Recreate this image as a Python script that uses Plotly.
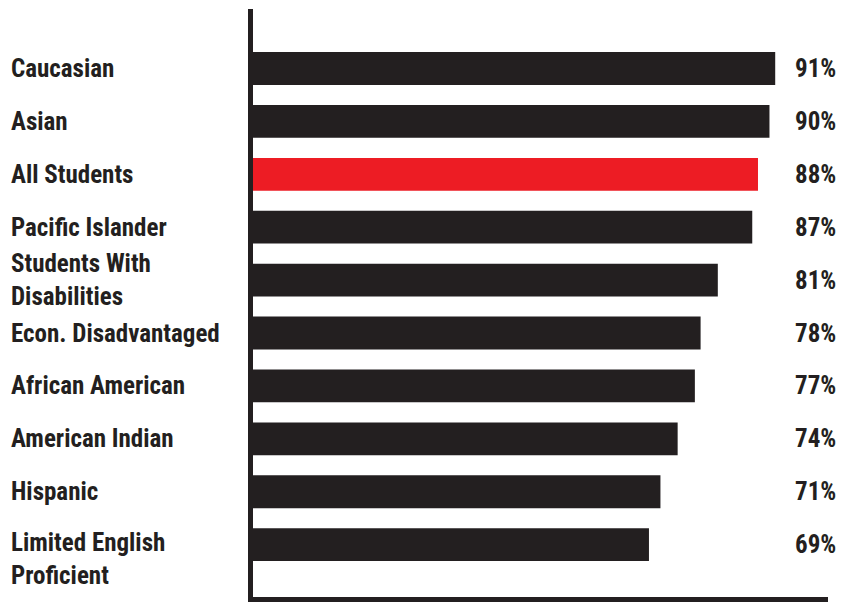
import plotly.graph_objects as go

categories = ["Caucasian", "Asian", "All Students", "Pacific Islander",
              "Students With<br>Disabilities", "Econ. Disadvantaged",
              "African American", "American Indian", "Hispanic",
              "Limited English<br>Proficient"]
values = [91, 90, 88, 87, 81, 78, 77, 74, 71, 69]
value_labels = ["91%", "90%", "88%", "87%", "81%", "78%", "77%", "74%", "71%", "69%"]
highlight = "All Students"

DARK = "#231f20"
RED = "#ed1c24"
FONT = "Roboto Condensed, Open Sans Condensed, sans-serif"

colors = [RED if c == highlight else DARK for c in categories]
ypos = list(range(len(categories)))

fig = go.Figure(go.Bar(
    x=values, y=ypos, orientation="h",
    marker=dict(color=colors, line=dict(width=0)),
    width=0.62, hoverinfo="skip",
))

ML, MR, MT, MB = 253, 16, 9, 8
plot_w = 844 - ML - MR

annotations = []
for i, (c, v) in enumerate(zip(categories, value_labels)):
    # last (two-line) label sits with its first line level with the bar
    shift = -14 if i == len(categories) - 1 else 0
    annotations.append(dict(
        x=(9 - ML) / plot_w, xref="paper", y=i, yref="y", yshift=shift,
        text=c, showarrow=False, xanchor="left", align="left",
        font=dict(family=FONT, size=25, color=DARK, weight="bold"),
    ))
    annotations.append(dict(
        x=(838 - ML) / plot_w, xref="paper", y=i, yref="y",
        text=v, showarrow=False, xanchor="right", align="right",
        font=dict(family=FONT, size=25, color=DARK, weight="bold"),
    ))

fig.update_layout(
    width=844, height=605,
    margin=dict(l=ML, r=MR, t=MT, b=MB, pad=0),
    paper_bgcolor="white", plot_bgcolor="white",
    showlegend=False,
    xaxis=dict(range=[0, 100.2], showgrid=False, zeroline=False,
               showticklabels=False, ticks="", showline=True,
               linecolor=DARK, linewidth=5),
    yaxis=dict(range=[9.99, -1.125], showgrid=False, zeroline=False,
               showticklabels=False, ticks="", showline=True,
               linecolor=DARK, linewidth=5),
    annotations=annotations,
)

fig.write_html("out.html", config={"displayModeBar": False},
               post_script="document.body.style.margin='0';")
